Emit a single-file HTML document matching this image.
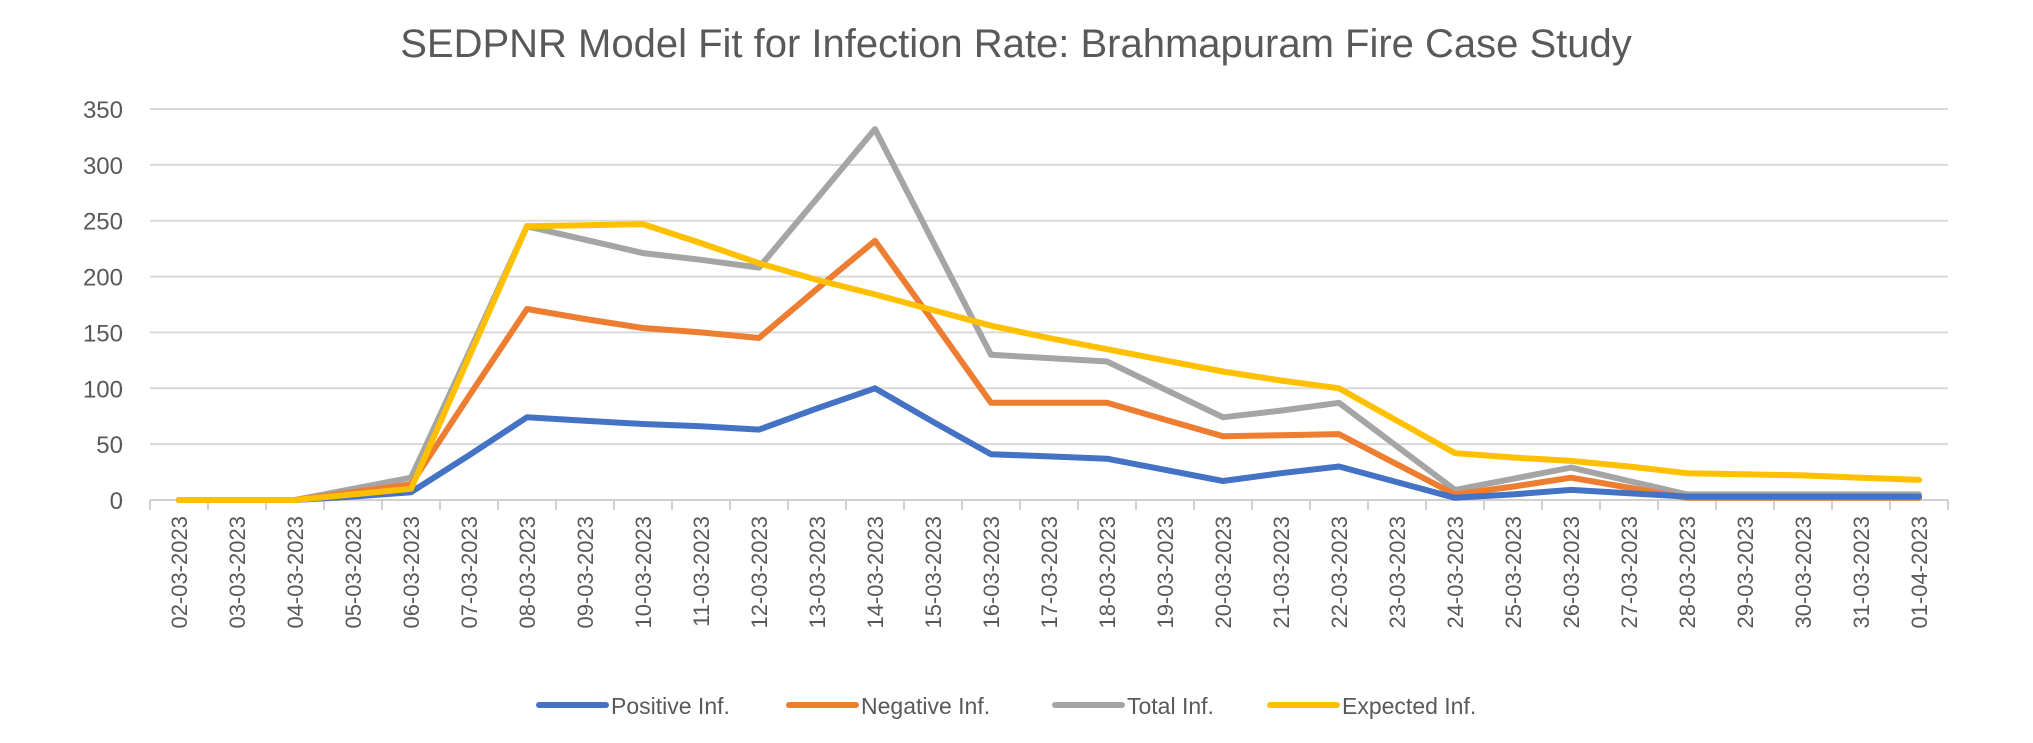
<!DOCTYPE html>
<html><head><meta charset="utf-8"><style>
body{margin:0;background:#fff;}
svg{display:block;font-family:"Liberation Sans",sans-serif;}
</style></head><body>
<svg id="chart" width="2033" height="743">
<text x="1016" y="57" text-anchor="middle" font-size="40" fill="#595959">SEDPNR Model Fit for Infection Rate: Brahmapuram Fire Case Study</text>
<g id="grid"></g><g id="yticks"></g><g id="xticks"></g><g id="series"></g>
<g id="legend"></g>
</svg>
<script>
const categories=["02-03-2023","03-03-2023","04-03-2023","05-03-2023","06-03-2023","07-03-2023","08-03-2023","09-03-2023","10-03-2023","11-03-2023","12-03-2023","13-03-2023","14-03-2023","15-03-2023","16-03-2023","17-03-2023","18-03-2023","19-03-2023","20-03-2023","21-03-2023","22-03-2023","23-03-2023","24-03-2023","25-03-2023","26-03-2023","27-03-2023","28-03-2023","29-03-2023","30-03-2023","31-03-2023","01-04-2023"];
const positiveInf=[0,0,0,3,7,40,74,71,68,66,63,82,100,70,41,39,37,27,17,24,30,16,2,5,9,6,3,3,3,3,3];
const negativeInf=[0,0,0,7,14,93,171,162,154,150,145,189,232,160,87,87,87,72,57,58,59,32,5,12,20,11,2,2,2,2,2];
const totalInf=[0,0,0,10,20,132,245,233,221,215,208,270,332,231,130,127,124,99,74,80,87,48,9,19,29,17,5,5,5,5,5];
const expectedInf=[0,0,0,5,10,128,245,246,247,230,212,197,184,170,156,145,135,125,115,107,100,71,42,38,35,30,24,23,22,20,18];
const yTicks=[0,50,100,150,200,250,300,350];
const seriesNames=["Positive Inf.","Negative Inf.","Total Inf.","Expected Inf."];

const NS="http://www.w3.org/2000/svg";
const X0=150,X1=1948,Y0=500,Y1=109,YMAX=350;
const step=(X1-X0)/categories.length;
const xs=i=>X0+step*(i+0.5);
const ys=v=>Y0-(v/YMAX)*(Y0-Y1);
function mk(tag,attrs,parent){const e=document.createElementNS(NS,tag);for(const k in attrs)e.setAttribute(k,attrs[k]);parent.appendChild(e);return e;}
const grid=document.getElementById('grid'),yt=document.getElementById('yticks'),xt=document.getElementById('xticks'),sg=document.getElementById('series'),lg=document.getElementById('legend');
yTicks.forEach(t=>{
  const l=mk('line',{x1:X0,x2:X1,y1:ys(t),y2:ys(t),stroke:t===0?'#d0d0d0':'#d9d9d9','stroke-width':2},grid);
  
  
  const tx=mk('text',{x:123,y:ys(t)+9,'text-anchor':'end','font-size':24,fill:'#595959'},yt);
  tx.textContent=t;
  
  
});
for(let i=0;i<=categories.length;i++){
  const x=X0+step*i;
  const l=mk('line',{x1:x,x2:x,y1:Y0,y2:Y0+10,stroke:'#d0d0d0','stroke-width':2},xt);
  
  
}
categories.forEach((c,i)=>{
  const x=xs(i)+8,y=Y0+16;
  const t=mk('text',{x:x,y:y,transform:`rotate(-90 ${x} ${y})`,'text-anchor':'end','font-size':22,fill:'#595959'},xt);
  t.textContent=c;
  
  
});
const colors=['#4472C4','#ED7D31','#A5A5A5','#FFC000'];
const data=[positiveInf,negativeInf,totalInf,expectedInf];
const keys=['positive-inf-line','negative-inf-line','total-inf-line','expected-inf-line'];
[2,1,0,3].forEach(s=>{
  const pts=data[s].map((v,i)=>xs(i).toFixed(1)+','+ys(v).toFixed(1)).join(' ');
  const p=mk('polyline',{points:pts,fill:'none',stroke:colors[s],'stroke-width':6,'stroke-linejoin':'round','stroke-linecap':'round'},sg);
  
  
});
const lx=[539,789,1055,1270];
seriesNames.forEach((n,i)=>{
  const l=mk('line',{x1:lx[i],x2:lx[i]+67,y1:705,y2:705,stroke:colors[i],'stroke-width':6,'stroke-linecap':'round'},lg);
  
  
  const t=mk('text',{x:lx[i]+72,y:714,'font-size':23,fill:'#595959'},lg);
  t.textContent=n;
  
  
});
</script>
</body></html>
